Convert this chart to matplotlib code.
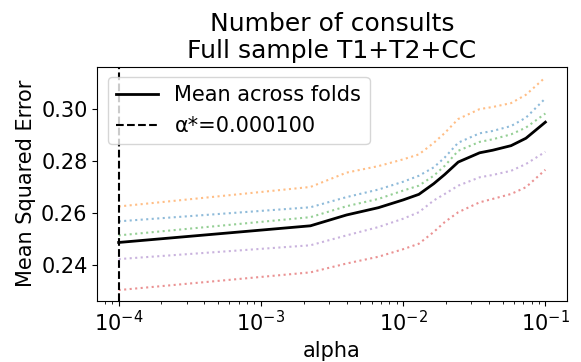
import numpy as np
import matplotlib
matplotlib.use("Agg")
import matplotlib.pyplot as plt

# regularisation grid and per-fold cross-validation MSE
alphas = [1e-4, 2.23e-3, 4.0e-3, 6.7e-3, 1.0e-2, 1.29e-2, 1.64e-2, 1.96e-2,
          2.44e-2, 3.45e-2, 4.26e-2, 5.74e-2, 7.3e-2, 1e-1]

mse_fold1 = [0.2567, 0.2621, 0.2660, 0.2689, 0.2719, 0.2742, 0.2774, 0.2812,
             0.2869, 0.2905, 0.2914, 0.2933, 0.2965, 0.3039]
mse_fold2 = [0.2624, 0.2699, 0.2754, 0.2779, 0.2805, 0.2824, 0.2868, 0.2906,
             0.2960, 0.2998, 0.3006, 0.3021, 0.3053, 0.3120]
mse_fold3 = [0.2513, 0.2583, 0.2625, 0.2653, 0.2685, 0.2704, 0.2742, 0.2780,
             0.2838, 0.2872, 0.2882, 0.2901, 0.2927, 0.2981]
mse_fold4 = [0.2303, 0.2371, 0.2405, 0.2431, 0.2460, 0.2481, 0.2526, 0.2564,
             0.2602, 0.2640, 0.2653, 0.2672, 0.2698, 0.2765]
mse_fold5 = [0.2422, 0.2475, 0.2513, 0.2545, 0.2577, 0.2602, 0.2647, 0.2672,
             0.2704, 0.2736, 0.2745, 0.2761, 0.2787, 0.2834]

best_alpha = 0.0001

folds = np.array([mse_fold1, mse_fold2, mse_fold3, mse_fold4, mse_fold5])
mse_mean = folds.mean(axis=0)

fig = plt.figure(figsize=(5.81, 3.62), dpi=100)
ax = fig.add_subplot(111)

ax.semilogx(alphas, folds.T, ':', alpha=0.5)
ax.plot(alphas, mse_mean, 'k', lw=2, label='Mean across folds')
ax.axvline(best_alpha, color='k', ls='--', lw=1.5,
           label='\u03b1*=%f' % best_alpha)

ax.set_title("Number of consults\nFull sample T1+T2+CC", fontsize=18)
ax.set_xlabel("alpha", fontsize=15)
ax.set_ylabel("Mean Squared Error", fontsize=15)
ax.tick_params(labelsize=15)
ax.set_yticks([0.24, 0.26, 0.28, 0.30])
ax.legend(loc='upper left', fontsize=15)

fig.subplots_adjust(left=0.1675, right=0.9754, top=0.8158, bottom=0.1693)
fig.savefig("out.png", dpi=100)
